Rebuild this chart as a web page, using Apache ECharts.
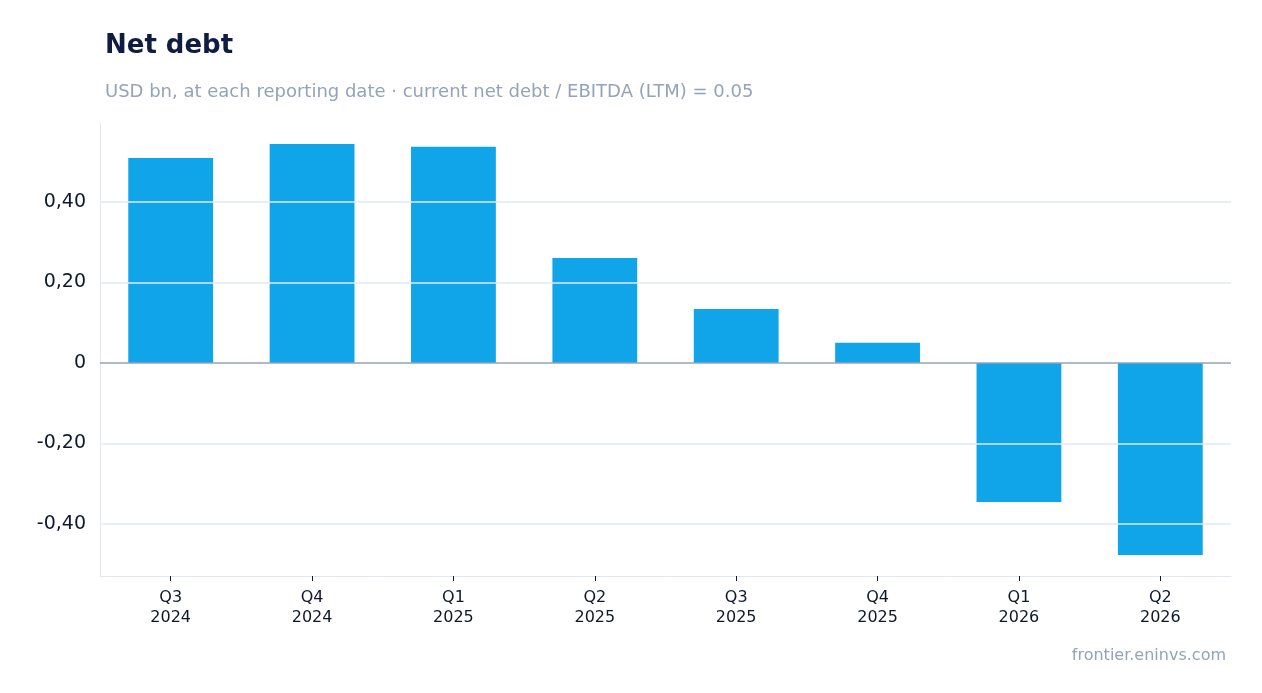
<!DOCTYPE html>
<html><head><meta charset="utf-8">
<script src="https://cdn.jsdelivr.net/npm/echarts@6/dist/echarts.min.js"></script>
<style>html,body{margin:0;background:#fff}#c{width:1262px;height:693px}</style>
</head><body><div id="c"></div>
<script>
const categories = ['Q3\n2024', 'Q4\n2024', 'Q1\n2025', 'Q2\n2025', 'Q3\n2025', 'Q4\n2025', 'Q1\n2026', 'Q2\n2026'];
const netDebt = [0.509, 0.544, 0.537, 0.261, 0.134, 0.050, -0.345, -0.477];
const yTicks = [-0.4, -0.2, 0, 0.2, 0.4];
const gridLines = [-0.4, -0.2, 0.2, 0.4];

const fmtNum = v => v === 0 ? '0' : v.toFixed(2).replace('.', ',');
const font = '"DejaVu Sans", sans-serif';
const chart = echarts.init(document.getElementById('c'));
chart.setOption({
  animation: false,
  title: [
    { text: 'Net debt', left: 100, top: 28, textStyle: { fontFamily: font, fontSize: 26, fontWeight: 'bold', color: '#0f1c44' } },
    { text: 'USD bn, at each reporting date · current net debt / EBITDA (LTM) = 0.05', left: 100, top: 78, textStyle: { fontFamily: font, fontSize: 18, fontWeight: 'normal', color: '#94a3b8' } },
    { text: 'frontier.eninvs.com', right: 31, top: 643, textStyle: { fontFamily: font, fontSize: 16, fontWeight: 'normal', color: '#94a3b8' } }
  ],
  grid: { left: 100, right: 31, top: 123, bottom: 117 },
  xAxis: {
    type: 'category', data: categories,
    axisLine: { show: true, onZero: false, lineStyle: { color: '#e2e8f0' } },
    axisTick: { show: true, alignWithLabel: true, lineStyle: { color: '#0f172a' }, length: 5 },
    axisLabel: { fontFamily: font, fontSize: 16, color: '#0f172a', lineHeight: 20, margin: 12 }
  },
  yAxis: {
    type: 'value', min: -0.529, max: 0.596,
    axisLine: { show: true, lineStyle: { color: '#e2e8f0' } },
    axisTick: { show: false },
    splitLine: { show: false },
    axisLabel: { customValues: yTicks, formatter: fmtNum, fontFamily: font, fontSize: 19, color: '#0f172a', margin: 14 }
  },
  series: [{
    type: 'bar', data: netDebt, barWidth: '60%',
    itemStyle: { color: '#10a5e8' },
    markLine: {
      silent: true, symbol: 'none', label: { show: false },
      data: gridLines.map(v => ({ yAxis: v, lineStyle: { color: '#e2e8f0', type: 'solid', width: 1.5 } }))
        .concat([{ yAxis: 0, lineStyle: { color: '#94a3b8', type: 'solid', width: 1.5 } }])
    }
  }]
});
</script></body></html>
